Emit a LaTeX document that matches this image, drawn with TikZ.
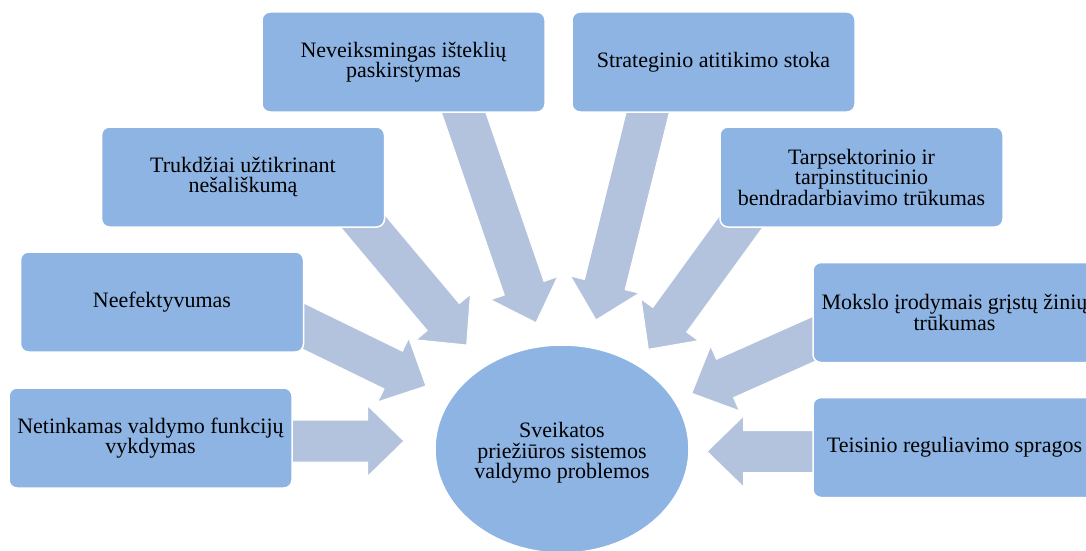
\documentclass[tikz,border=0pt]{standalone}
\usepackage{fontspec}
\setmainfont{Liberation Serif}
\usetikzlibrary{calc,shapes.geometric}
\definecolor{boxblue}{HTML}{8EB4E3}
\definecolor{arrowblue}{HTML}{B3C3DE}
\tikzset{
  causebox/.style={draw=white, line width=1.5pt, fill=boxblue, rounded corners=8pt,
    minimum width=283pt, minimum height=100pt, align=center, inner sep=0pt,
    font=\fontsize{22}{20.5}\selectfont},
  corebox/.style={ellipse, draw=white, line width=1.5pt, fill=boxblue,
    minimum width=254pt, minimum height=208pt, inner sep=0pt},
  coretext/.style={align=center, inner sep=0pt, font=\fontsize{22}{20.5}\selectfont},
  flowarrow/.style={fill=arrowblue, draw=white, line width=1pt, line join=miter},
}
% block arrow from a tail coordinate (#1) to a tip coordinate (#2)
\newcommand\radialarrow[2]{%
  \coordinate (#2-hb) at ($(#2)!36.5pt!(#1)$);
  \path[flowarrow]
    ($(#1)!21pt!90:(#2)$) -- ($(#2-hb)!21pt!90:(#2)$) -- ($(#2-hb)!35.5pt!90:(#2)$)
    -- (#2)
    -- ($(#2-hb)!35.5pt!-90:(#2)$) -- ($(#2-hb)!21pt!-90:(#2)$) -- ($(#1)!21pt!-90:(#2)$)
    -- cycle;
}
\begin{document}
\begin{tikzpicture}[x=1pt,y=-1pt]
  \useasboundingbox (0,0) rectangle (1086,551);
  \clip (0,0) rectangle (1086,551);
  \fill[white] (0,0) rectangle (1086,551);

  % arrow tips and tails
  \coordinate (tipA) at (404,441);     \coordinate (tailA) at ($(tipA)+(180:124)$);
  \coordinate (tipB) at (426,386);     \coordinate (tailB) at ($(tipB)+(206:160)$);
  \coordinate (tipC) at (466.7,345);   \coordinate (tailC) at ($(tipC)+(230:190)$);
  \coordinate (tipD) at (536,322.7);   \coordinate (tailD) at ($(tipD)+(251:240)$);
  \coordinate (tipE) at (596,320);     \coordinate (tailE) at ($(tipE)+(284:240)$);
  \coordinate (tipF) at (648.3,349.3); \coordinate (tailF) at ($(tipF)+(306:180)$);
  \coordinate (tipG) at (691.7,393.3); \coordinate (tailG) at ($(tipG)+(336:150)$);
  \coordinate (tipH) at (707,451.5);   \coordinate (tailH) at ($(tipH)+(0:123)$);

  \radialarrow{tailA}{tipA}
  \radialarrow{tailB}{tipB}
  \radialarrow{tailC}{tipC}
  \radialarrow{tailD}{tipD}
  \radialarrow{tailE}{tipE}
  \radialarrow{tailF}{tipF}
  \radialarrow{tailG}{tipG}
  \radialarrow{tailH}{tipH}

  % cause boxes
  \node[causebox] (resources) at (403.5,62) {Neveiksmingas išteklių\\paskirstymas};
  \node[causebox] (strategy) at (713.5,62) {Strateginio atitikimo stoka};
  \node[causebox] (impartial) at (243,177) {Trukdžiai užtikrinant\\nešališkumą};
  \node[causebox] (cooperation) at (861.5,177) {Tarpsektorinio ir\\tarpinstitucinio\\bendradarbiavimo trūkumas};
  \node[causebox] (efficiency) at (162,302) {Neefektyvumas};
  \node[causebox] (evidence) at (954.5,312.5) {Mokslo įrodymais grįstų žinių\\trūkumas};
  \node[causebox] (functions) at (150.5,438) {Netinkamas valdymo funkcijų\\vykdymas};
  \node[causebox] (legal) at (954.5,447.5) {Teisinio reguliavimo spragos};

  % central problem
  \node[corebox] (core) at (562,449) {};
  \node[coretext] (coretitle) at ($(core.center)+(0,4)$) {Sveikatos\\priežiūros sistemos\\valdymo problemos};
\end{tikzpicture}
\end{document}
